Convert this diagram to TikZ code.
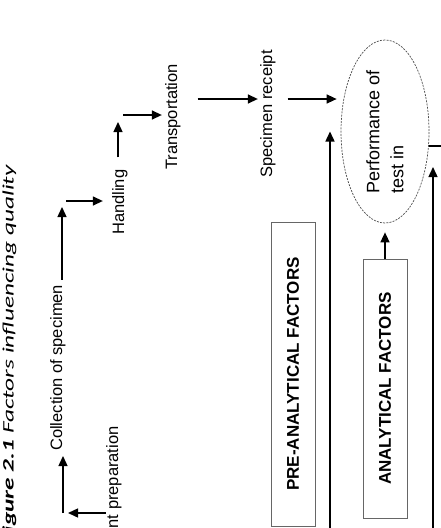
\documentclass[tikz,border=0pt]{standalone}
\usepackage{fontspec}
\setmainfont{Liberation Sans}
\newfontfamily\capfont{Carlito}
\usepackage{graphicx}
\usetikzlibrary{positioning, arrows.meta, shapes.geometric, calc}

\begin{document}
\begin{tikzpicture}[
        x=1pt, y=-1pt,
        stage/.style  = {rotate=90, inner sep=0pt, anchor=base west, font=\fontsize{16.5}{19}\selectfont},
        factor/.style = {draw=black!60, line width=0.9pt, rectangle, rotate=90, minimum height=44pt, inner sep=0pt, font=\bfseries\fontsize{17}{20}\selectfont},
        test/.style   = {draw=black!70, line width=0.7pt, dash pattern=on 2pt off 1.2pt, ellipse, rotate=90, minimum width=183pt, minimum height=88pt, inner sep=0pt, align=left, font=\fontsize{18}{24}\selectfont},
        arrow/.style  = {-{Triangle[length=10pt, width=9pt]}, line width=1.4pt},
    ]
        \useasboundingbox (0,0) rectangle (440,528);

        %---- caption ----
        \node[rotate=90, anchor=base east, inner sep=0pt, font=\capfont\itshape\fontsize{16}{19}\selectfont] (cap) at (13.5,165) {\scalebox{1.58}[1]{\textbf{Figure 2.1} Factors influencing quality}};

        %---- pre-analytical chain ----
        \node[stage] (pat) at (118,566) {Patient preparation};
        \node[stage] (col) at (62,451) {Collection of specimen};
        \node[stage] (han) at (124,235) {Handling};
        \node[stage] (tra) at (177,170) {Transportation};
        \node[stage] (spe) at (272,178) {Specimen receipt};

        %---- test and factors ----
        \node[test] (per) at (385,131.5) {Performance of\\test in};
        \node[factor, minimum width=304pt] (pre) at (293,374) {PRE-ANALYTICAL FACTORS};
        \node[factor, minimum width=259pt] (ana) at (385,388.5) {ANALYTICAL FACTORS};

        \coordinate (c1) at (63,513);
        \coordinate (c2) at (63,201);
        \coordinate (c3) at (118,115);
        \coordinate (c4) at (198,99);
        \coordinate (b1) at (330,540);
        \coordinate (b2) at (433,540);
        \coordinate (b2t) at (433,167);

        \draw[arrow, shorten >=5pt] (pat.north |- c1) -- (c1);
        \draw[arrow, shorten >=5pt] (c1) -- (c1 |- col.base west);
        \draw[arrow, shorten <=5pt, shorten >=6pt] (col.base east) -- (col.base east |- c2);
        \draw[arrow, shorten <=3pt, shorten >=9pt] (c2) -- (c2 -| han.north);
        \draw[arrow, shorten <=12pt, shorten >=7pt] (c3 |- han.east) -- (c3);
        \draw[arrow, shorten <=5pt, shorten >=3pt] (c3) -- (c3 -| tra.north);
        \draw[arrow, shorten <=17pt, shorten >=2pt] (tra.south |- c4) -- (spe.north |- c4);
        \draw[arrow, shorten <=12pt, shorten >=4pt] (spe.south |- c4) -- (per.north |- c4);

        \draw[arrow] (b1) -- (b1 |- per.north);
        \draw[arrow] (b2) -- (b2t);
        \draw[arrow, shorten >=9pt] (ana.east) -- (per.west);
        \draw[line width=1.4pt] ($(per.south)+(0,14.5)$) -- ++(20,0);
    \end{tikzpicture}
\end{document}
